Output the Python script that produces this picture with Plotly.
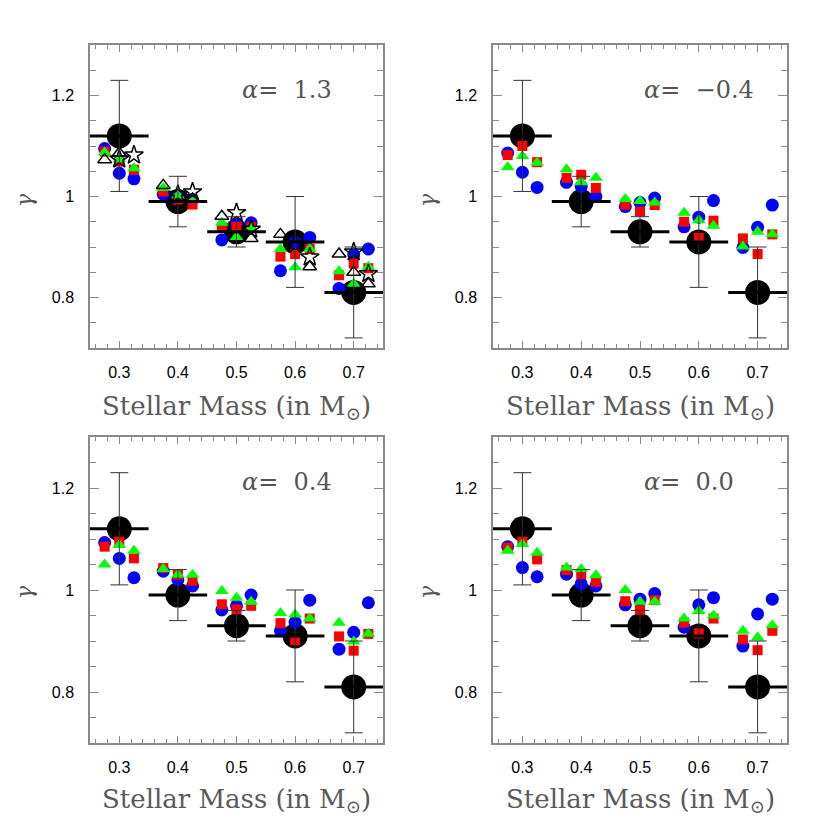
import plotly.graph_objects as go

# observed gamma per stellar-mass bin
mass = [0.3, 0.4, 0.5, 0.6, 0.7]
obs_gamma = [1.12, 0.99, 0.93, 0.91, 0.81]
obs_err = [0.11, 0.05, 0.03, 0.09, 0.09]
bin_half = [0.05, 0.05, 0.05, 0.05, 0.05]
model_offsets = [-0.025, 0.0, 0.025]

alphas = ["1.3", "\u22120.4", "0.4", "0.0"]

# model gamma, 3 models per mass bin (bin-major order)
blue_a13 = [1.095, 1.046, 1.035, 1.004, 1.000, 0.994, 0.914, 0.945, 0.948,
            0.853, 0.909, 0.919, 0.818, 0.885, 0.896]
red_a13 = [1.089, 1.069, 1.053, 1.010, 0.994, 0.984, 0.939, 0.940, 0.940,
           0.881, 0.886, 0.896, 0.844, 0.867, 0.858]
green_a13 = [1.087, 1.074, 1.056, 1.017, 1.002, 0.994, 0.948, 0.920, 0.937,
             0.896, 0.860, 0.896, 0.852, 0.827, 0.861]
opentri_a13 = [1.073, 1.086, None, 1.022, None, 0.995, 0.961, None, 0.917,
               0.925, None, 0.861, 0.886, 0.850, 0.827]
star_a13 = [None, 1.074, 1.082, None, 1.004, 1.009, None, 0.968, 0.935,
            None, 0.905, 0.880, None, 0.890, 0.847]

blue_am04 = [1.086, 1.048, 1.018, 1.028, 1.020, 1.000, 0.980, 0.988, 0.997,
             0.940, 0.959, 0.992, 0.899, 0.939, 0.983]
red_am04 = [1.082, 1.100, 1.068, 1.037, 1.043, 1.017, 0.984, 0.970, 0.983,
            0.950, 0.918, 0.952, 0.917, 0.886, 0.925]
green_am04 = [1.058, 1.080, 1.067, 1.054, 1.028, 1.037, 0.995, 0.991, 0.988,
              0.968, 0.953, 0.942, 0.901, 0.930, 0.925]

blue_a04 = [1.093, 1.062, 1.024, 1.037, 1.020, 1.008, 0.961, 0.969, 0.990,
            0.920, 0.937, 0.980, 0.884, 0.917, 0.975]
red_a04 = [1.085, 1.095, 1.062, 1.043, 1.030, 1.018, 0.972, 0.962, 0.969,
           0.935, 0.902, 0.944, 0.909, 0.881, 0.914]
green_a04 = [1.050, 1.088, 1.077, 1.041, 1.030, 1.030, 0.998, 0.985, 0.977,
             0.955, 0.952, 0.944, 0.936, 0.899, 0.914]

blue_a00 = [1.085, 1.044, 1.026, 1.031, 1.012, 1.008, 0.971, 0.982, 0.993,
            0.927, 0.971, 0.985, 0.890, 0.953, 0.982]
red_a00 = [1.083, 1.095, 1.060, 1.039, 1.031, 1.016, 0.978, 0.961, 0.980,
           0.936, 0.915, 0.944, 0.903, 0.882, 0.920]
green_a00 = [1.077, 1.090, 1.073, 1.044, 1.041, 1.029, 1.000, 0.977, 0.977,
             0.944, 0.959, 0.950, 0.920, 0.907, 0.931]

model_x = [m + o for m in mass for o in model_offsets]

panels = [
    {"blue": blue_a13, "red": red_a13, "green": green_a13,
     "opentri": opentri_a13, "star": star_a13},
    {"blue": blue_am04, "red": red_am04, "green": green_am04},
    {"blue": blue_a04, "red": red_a04, "green": green_a04},
    {"blue": blue_a00, "red": red_a00, "green": green_a00},
]

W = 830
OFF = 8  # page body margin


def fx(px):
    return (px - OFF) / W


def fy(py):
    return 1 - (py - OFF) / W


x_doms = [[fx(90), fx(383)], [fx(493), fx(787)]]
y_doms = [[fy(348), fy(45)], [fy(743), fy(437)]]
FRAME = "#8a8a8a"

fig = go.Figure()
layout = {}

for i, p in enumerate(panels):
    sfx = "" if i == 0 else str(i + 1)
    xa, ya = "x" + sfx, "y" + sfx
    common = dict(xaxis=xa, yaxis=ya, showlegend=False, hoverinfo="skip")

    fig.add_trace(go.Scatter(x=mass, y=obs_gamma, mode="markers",
                             marker=dict(size=25, color="black"), **common))
    fig.add_trace(go.Scatter(x=model_x, y=p["blue"], mode="markers",
                             marker=dict(size=13, color="#0000ff", symbol="circle"), **common))
    fig.add_trace(go.Scatter(x=model_x, y=p["red"], mode="markers",
                             marker=dict(size=10, color="#ff0000", symbol="square"), **common))
    fig.add_trace(go.Scatter(x=model_x, y=p["green"], mode="markers",
                             marker=dict(size=12, color="#00ff00", symbol="triangle-up"), **common))
    if "opentri" in p:
        fig.add_trace(go.Scatter(x=model_x, y=p["opentri"], mode="markers",
                                 marker=dict(size=12, color="black", symbol="triangle-up-open",
                                             line=dict(width=1.5)), **common))
        fig.add_trace(go.Scatter(x=model_x, y=p["star"], mode="markers",
                                 marker=dict(size=14, color="black", symbol="star-open",
                                             line=dict(width=1.5)), **common))
    # error bars on top of everything
    fig.add_trace(go.Scatter(
        x=mass, y=obs_gamma, mode="markers",
        marker=dict(size=1, color="rgba(0,0,0,0)"),
        error_x=dict(type="data", array=bin_half, thickness=3, width=0, color="black"),
        error_y=dict(type="data", array=obs_err, thickness=1, width=9, color="#333333"),
        **common))

    col, row = i % 2, i // 2
    layout["xaxis" + sfx] = dict(
        domain=x_doms[col], anchor=ya, range=[0.25, 0.75],
        tickvals=mass, ticktext=["0.3", "0.4", "0.5", "0.6", "0.7"],
        ticks="inside", ticklen=7, tickcolor=FRAME, mirror="ticks",
        showline=True, linecolor=FRAME, linewidth=1.5, showgrid=False, zeroline=False,
        minor=dict(dtick=0.02, tick0=0.3, ticks="inside", ticklen=4, tickcolor=FRAME),
        tickfont=dict(family="Liberation Sans", size=16, color="black"),
        ticklabelstandoff=9,
    )
    layout["yaxis" + sfx] = dict(
        domain=y_doms[row], anchor=xa, range=[0.7, 1.3],
        tickvals=[0.8, 1.0, 1.2], ticktext=["0.8", "1", "1.2"],
        ticks="inside", ticklen=9, tickcolor=FRAME, mirror="ticks",
        showline=True, linecolor=FRAME, linewidth=1.5, showgrid=False, zeroline=False,
        minor=dict(dtick=0.05, tick0=0.7, ticks="inside", ticklen=6, tickcolor=FRAME),
        tickfont=dict(family="Liberation Sans", size=16, color="black"),
        ticklabelstandoff=11,
    )

annotations = []
alpha_pos = [(240, 90), (642, 90), (240, 482), (642, 482)]
for (px, py), a in zip(alpha_pos, alphas):
    annotations.append(dict(
        x=fx(px), y=fy(py), xref="paper", yref="paper",
        xanchor="left", yanchor="middle", showarrow=False,
        text="<i>\u03b1</i>=\u00a0 " + a,
        font=dict(family="DejaVu Serif", size=24, color="#555555")))

for cx in [236.5, 640]:
    for cy in [407, 800]:
        annotations.append(dict(
            x=fx(cx), y=fy(cy), xref="paper", yref="paper",
            xanchor="center", yanchor="middle", showarrow=False,
            text="Stellar Mass (in M<sub>\u2299</sub>)",
            font=dict(family="DejaVu Serif", size=26, color="#5a5a5a")))

for cx in [24, 427]:
    for cy in [200, 592]:
        annotations.append(dict(
            x=fx(cx), y=fy(cy), xref="paper", yref="paper",
            xanchor="center", yanchor="middle", showarrow=False, textangle=-90,
            text="<i>\u03b3</i>",
            font=dict(family="DejaVu Serif", size=22, color="#555555")))

fig.update_layout(
    width=W, height=W,
    margin=dict(l=0, r=0, t=0, b=0),
    paper_bgcolor="white", plot_bgcolor="white",
    annotations=annotations,
    **layout,
)

fig.write_html("out.html")
